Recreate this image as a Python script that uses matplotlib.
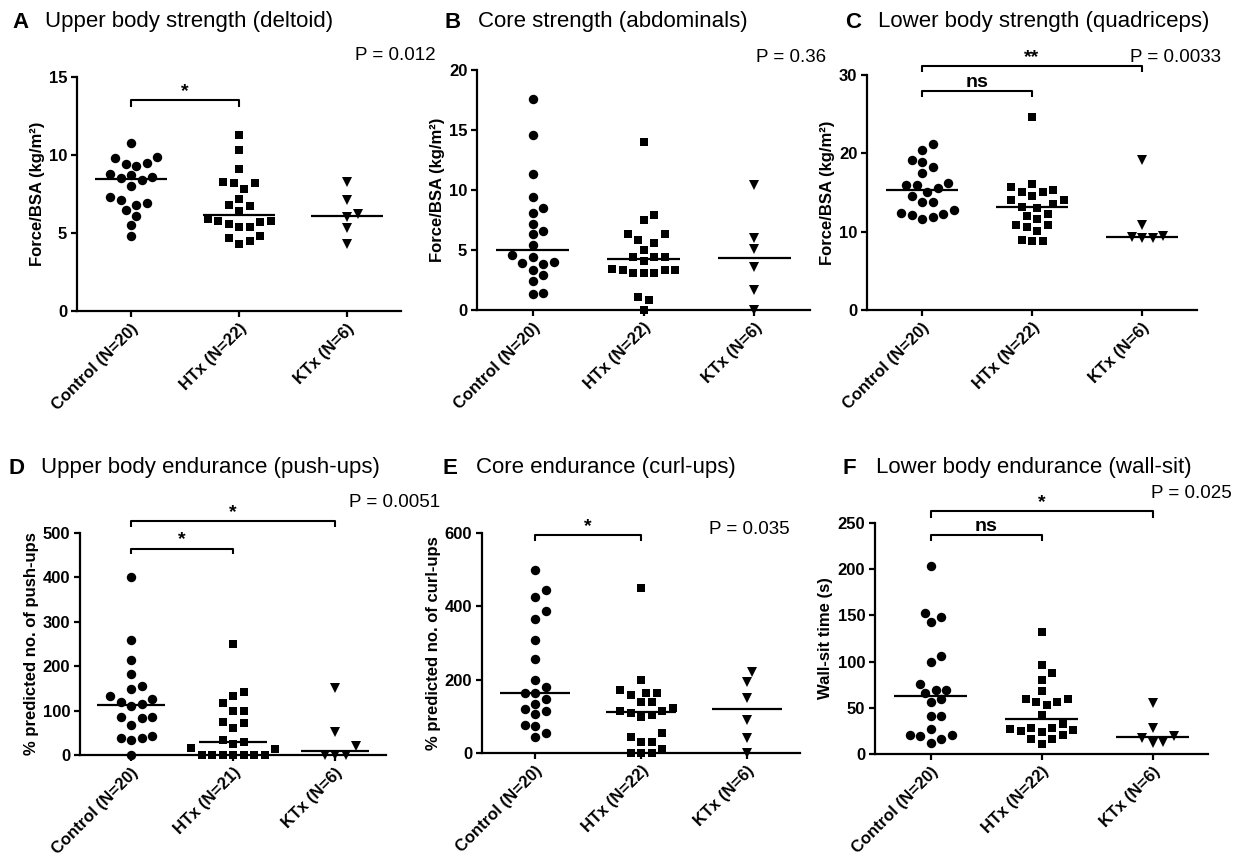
import matplotlib.pyplot as plt
import numpy as np

W, H = 1254, 857
plt.rcParams['font.family'] = ['Liberation Sans', 'DejaVu Sans']

groups = ["Control (N=20)", "HTx (N=22)", "KTx (N=6)"]
groups_pushups = ["Control (N=20)", "HTx (N=21)", "KTx (N=6)"]

# strength, force/BSA (kg/m2)
deltoid_control = [10.8, 9.9, 9.8, 9.5, 9.4, 9.3, 8.8, 8.7, 8.6, 8.5,
                   8.4, 8.0, 7.3, 7.1, 6.9, 6.8, 6.5, 6.1, 5.5, 4.8]
deltoid_htx = [11.3, 10.3, 9.1, 8.3, 8.2, 8.2, 7.8, 7.2, 6.8, 6.7, 6.4,
               5.9, 5.8, 5.8, 5.7, 5.6, 5.4, 5.4, 4.8, 4.7, 4.5, 4.3]
deltoid_ktx = [8.3, 7.1, 6.2, 6.0, 5.3, 4.3]

abdominal_control = [17.6, 14.6, 11.3, 9.4, 8.5, 8.1, 7.2, 6.6, 6.3, 5.4,
                     4.6, 4.4, 4.0, 3.9, 3.8, 3.3, 2.9, 2.4, 1.4, 1.3]
abdominal_htx = [14.0, 7.9, 7.5, 6.3, 6.3, 5.8, 5.6, 5.0, 4.4, 4.4, 4.4,
                 4.1, 3.4, 3.3, 3.3, 3.3, 3.1, 3.1, 3.1, 1.1, 0.8, 0.0]
abdominal_ktx = [10.4, 6.0, 5.1, 3.6, 1.7, 0.0]

quadriceps_control = [21.2, 20.4, 19.2, 18.9, 18.3, 17.5, 16.2, 15.9, 15.9, 15.6,
                      15.0, 14.5, 13.8, 13.8, 12.8, 12.4, 12.3, 12.1, 11.9, 11.6]
quadriceps_htx = [24.7, 16.1, 15.7, 15.3, 15.1, 15.0, 14.5, 14.1, 14.1, 13.5, 13.2,
                  13.0, 12.2, 12.0, 11.6, 10.9, 10.8, 10.6, 10.1, 8.9, 8.8, 8.8]
quadriceps_ktx = [19.2, 10.9, 9.4, 9.3, 9.2, 9.2]

# endurance
pushups_control = [400, 260, 213, 183, 156, 149, 133, 126, 120, 114,
                   110, 86, 86, 83, 67, 43, 38, 38, 34, 0]
pushups_htx = [250, 143, 133, 117, 100, 100, 75, 73, 60, 34, 30,
               25, 15, 13, 0, 0, 0, 0, 0, 0, 0]
pushups_ktx = [152, 51, 20, 0, 0, 0]

curlups_control = [500, 444, 425, 388, 366, 309, 256, 198, 179, 165,
                   165, 147, 135, 119, 114, 106, 77, 73, 55, 44]
curlups_htx = [450, 198, 173, 165, 165, 157, 139, 139, 123, 114, 114,
               110, 103, 98, 55, 44, 31, 31, 12, 0, 0, 0]
curlups_ktx = [222, 195, 150, 90, 40, 0]

wallsit_control = [203, 153, 148, 143, 106, 100, 76, 69, 69, 66,
                   59, 56, 41, 41, 27, 21, 21, 19, 16, 12]
wallsit_htx = [132, 96, 88, 80, 68, 60, 60, 56, 56, 53, 42,
               33, 28, 28, 27, 26, 25, 24, 21, 16, 16, 11]
wallsit_ktx = [55, 28, 20, 17, 13, 12]

fig = plt.figure(figsize=(W / 100, H / 100), dpi=100)


def px_axes(left, top, right, bottom):
    return fig.add_axes([left / W, 1 - bottom / H, (right - left) / W, (bottom - top) / H])


def swarm_offsets(ax, values, gap):
    # simple beeswarm: push each point sideways until it clears the ones already placed
    xp = ax.transData.transform([(0, 0), (1, 0)])
    px_per_x = xp[1, 0] - xp[0, 0]
    yp = ax.transData.transform(np.column_stack([np.zeros(len(values)), values]))[:, 1]
    step = gap / 2
    placed = []
    offs = np.zeros(len(values))
    for i in np.argsort(values):
        dx = 0.0
        for k in range(80):
            cands = [0.0] if k == 0 else [k * step, -k * step]
            free = [c for c in cands
                    if all((c - px) ** 2 + (yp[i] - py) ** 2 >= gap ** 2 for px, py in placed)]
            if free:
                dx = free[0]
                break
        placed.append((dx, yp[i]))
        offs[i] = dx / px_per_x
    return offs


def bracket(ax, x0, x1, y, drop, label):
    ax.plot([x0, x0, x1, x1], [y - drop, y, y, y - drop], color='black', lw=1.5,
            clip_on=False, solid_capstyle='butt')
    ax.text((x0 + x1) / 2, y, label, ha='center', va='bottom', fontsize=14,
            fontweight='bold')


def panel(rect, data, labels, ylim, yticks, ylabel):
    ax = px_axes(*rect)
    ax.set_xlim(-0.5, 2.5)
    ax.set_ylim(*ylim)
    for i, (vals, marker, ms) in enumerate(zip(data, ['o', 's', 'v'], [6.8, 6.0, 6.6])):
        vals = np.asarray(vals, float)
        x = i + swarm_offsets(ax, vals, gap=10.5)
        ax.plot(x, vals, linestyle='none', marker=marker, color='black', ms=ms,
                mew=0, clip_on=False, zorder=4)
        ax.hlines(np.median(vals), i - 0.33, i + 0.33, color='black', lw=1.6, zorder=5)
    ax.spines[['top', 'right']].set_visible(False)
    ax.spines[['left', 'bottom']].set_linewidth(1.6)
    ax.set_yticks(yticks)
    ax.set_xticks([0, 1, 2])
    ax.set_xticklabels(labels, rotation=45, ha='right', va='top',
                       rotation_mode='anchor', fontsize=12, fontweight='bold')
    for t in ax.get_yticklabels():
        t.set_fontweight('bold')
    ax.tick_params(axis='both', length=4, width=1.6, labelsize=12, pad=3)
    ax.set_ylabel(ylabel, fontsize=12, fontweight='bold', labelpad=3)
    return ax


def title(x, y, letter, text):
    fig.text(x / W, 1 - y / H, letter, fontsize=16, fontweight='bold', va='center')
    fig.text((x + 33) / W, 1 - y / H, text, fontsize=16, va='center')


def pvalue(x, y, text):
    fig.text(x / W, 1 - y / H, text, fontsize=13.5, ha='right', va='center')


force_label = "Force/BSA (kg/m²)"

ax_a = panel((77, 77, 401, 311), [deltoid_control, deltoid_htx, deltoid_ktx], groups,
             (0, 15), [0, 5, 10, 15], force_label)
bracket(ax_a, 0, 1, 13.5, 0.4, "*")
title(12, 22, "A", "Upper body strength (deltoid)")
pvalue(436, 55, "P = 0.012")

ax_b = panel((477, 70, 810, 310), [abdominal_control, abdominal_htx, abdominal_ktx], groups,
             (0, 20), [0, 5, 10, 15, 20], force_label)
title(445, 22, "B", "Core strength (abdominals)")
pvalue(826, 58, "P = 0.36")

ax_c = panel((867, 75, 1197, 310), [quadriceps_control, quadriceps_htx, quadriceps_ktx], groups,
             (0, 30), [0, 10, 20, 30], force_label)
bracket(ax_c, 0, 2, 31.1, 0.7, "**")
bracket(ax_c, 0, 1, 28.0, 0.8, "ns")
title(845, 22, "C", "Lower body strength (quadriceps)")
pvalue(1221, 58, "P = 0.0033")

ax_d = panel((80, 533, 386, 755), [pushups_control, pushups_htx, pushups_ktx], groups_pushups,
             (0, 500), [0, 100, 200, 300, 400, 500], "% predicted no. of push-ups")
bracket(ax_d, 0, 2, 526, 12, "*")
bracket(ax_d, 0, 1, 465, 12, "*")
title(8, 468, "D", "Upper body endurance (push-ups)")
pvalue(440, 502, "P = 0.0051")

ax_e = panel((482, 533, 800, 753), [curlups_control, curlups_htx, curlups_ktx], groups,
             (0, 600), [0, 200, 400, 600], "% predicted no. of curl-ups")
bracket(ax_e, 0, 1, 594, 17, "*")
title(443, 468, "E", "Core endurance (curl-ups)")
pvalue(790, 530, "P = 0.035")

ax_f = panel((875, 523, 1208, 754), [wallsit_control, wallsit_htx, wallsit_ktx], groups,
             (0, 250), [0, 50, 100, 150, 200, 250], "Wall-sit time (s)")
bracket(ax_f, 0, 2, 262.8, 7, "*")
bracket(ax_f, 0, 1, 236.8, 6, "ns")
title(843, 468, "F", "Lower body endurance (wall-sit)")
pvalue(1232, 493, "P = 0.025")

fig.savefig("out.png", dpi=100)
